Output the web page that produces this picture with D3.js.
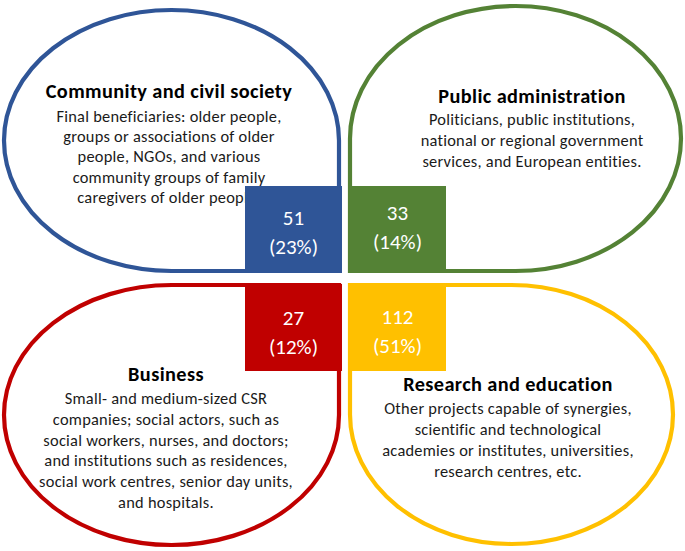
<!DOCTYPE html>
<html>
<head>
<meta charset="utf-8">
<script src="https://cdn.jsdelivr.net/npm/d3@7"></script>
<style>
  html, body { margin: 0; padding: 0; background: #ffffff; }
  svg { display: block; }
  text { font-family: Carlito, Lato, "Open Sans", sans-serif; }
</style>
</head>
<body>
<div id="chart"></div>
<script>
// ---- Data ----
const categories = ["Community and civil society", "Public administration", "Business", "Research and education"];
const counts = [51, 33, 27, 112];
const percents = [23, 14, 12, 51];
const descriptions = [
  ["Final beneficiaries: older people,", "groups or associations of older", "people, NGOs, and various", "community groups of family", "caregivers of older people."],
  ["Politicians, public institutions,", "national or regional government", "services, and European entities."],
  ["Small- and medium-sized CSR", "companies; social actors, such as", "social workers, nurses, and doctors;", "and institutions such as residences,", "social work centres, senior day units,", "and hospitals."],
  ["Other projects capable of synergies,", "scientific and technological", "academies or institutes, universities,", "research centres, etc."]
];
const colors = ["#2F5597", "#548235", "#C00000", "#FFC000"];

// ---- Layout ----
const W = 685, H = 551;
const svg = d3.select("#chart").append("svg").attr("width", W).attr("height", H);

const col = i => i % 2, row = i => Math.floor(i / 2);
const xOuter = d3.scaleOrdinal().domain([0, 1]).range([[4, 339], [350, 681]]);
const yOuter = d3.scaleOrdinal().domain([0, 1]).range([[10, 271], [285, 545]]);
const shapeBox = i => {
  let [x0, x1] = xOuter(col(i));
  let [y0, y1] = yOuter(row(i));
  if (i === 3) { x1 = 673; y1 = 544; }
  if (i === 1) { y0 = 6; }
  return { x0, x1, y0, y1 };
};

function teardrop(b, sq) {
  const hc = (b.x0 + b.x1) / 2, vc = (b.y0 + b.y1) / 2;
  const rx = (b.x1 - b.x0) / 2, ry = (b.y1 - b.y0) / 2;
  const pts = [[hc, b.y0], [b.x1, vc], [hc, b.y1], [b.x0, vc]];
  const corners = [[b.x1, b.y0], [b.x1, b.y1], [b.x0, b.y1], [b.x0, b.y0]];
  const names = ["TR", "BR", "BL", "TL"];
  let s = `M${pts[0][0]},${pts[0][1]}`;
  for (let k = 0; k < 4; k++) {
    const nx = pts[(k + 1) % 4];
    if (names[k] === sq) {
      s += `L${corners[k][0]},${corners[k][1]}L${nx[0]},${nx[1]}`;
    } else {
      s += `A${rx},${ry} 0 0 1 ${nx[0]},${nx[1]}`;
    }
  }
  return s + "Z";
}
const squareCorner = ["BR", "BL", "TR", "TL"];

const data = categories.map((c, i) => ({
  i, category: c, count: counts[i], pct: percents[i], lines: descriptions[i], color: colors[i]
}));

const g = svg.selectAll("g.quad").data(data).join("g").attr("class", "quad");

g.append("path")
  .attr("d", d => teardrop(shapeBox(d.i), squareCorner[d.i]))
  .attr("fill", "#ffffff")
  .attr("stroke", d => d.color)
  .attr("stroke-width", 4.2);

const textX = [169, 532, 166, 508];
const titleY = [98, 103, 381, 391];
const bodyOff = [24, 22, 23, 23];
const lineH = [20.2, 21, 20.8, 21];

g.append("text")
  .attr("x", d => textX[d.i])
  .attr("y", d => titleY[d.i])
  .attr("text-anchor", "middle")
  .attr("font-weight", "bold")
  .attr("font-size", 20.3)
  .attr("letter-spacing", 0.4)
  .attr("fill", "#000")
  .text(d => d.category);

g.each(function (d) {
  d3.select(this).append("text")
    .attr("text-anchor", "middle")
    .attr("font-size", 16.4)
    .attr("letter-spacing", 0.25)
    .attr("fill", "#1a1a1a")
    .selectAll("tspan").data(d.lines).join("tspan")
    .attr("x", textX[d.i])
    .attr("y", (l, k) => titleY[d.i] + bodyOff[d.i] + k * lineH[d.i])
    .text(l => l);
});

const boxW = 97, boxH = 87;
const boxX = i => col(i) === 0 ? 342 - boxW : 349;
const boxY = i => row(i) === 0 ? 273 - boxH : 284;
const numOff = [39, 34, 41, 40];

g.append("rect")
  .attr("x", d => boxX(d.i))
  .attr("y", d => boxY(d.i))
  .attr("width", boxW)
  .attr("height", boxH)
  .attr("fill", d => d.color);

g.append("text")
  .attr("text-anchor", "middle")
  .attr("font-size", 21)
  .attr("fill", "#ffffff")
  .selectAll("tspan").data(d => [String(d.count), `(${d.pct}%)`].map(t => ({ t, i: d.i })))
  .join("tspan")
  .attr("x", e => boxX(e.i) + boxW / 2)
  .attr("y", (e, k) => boxY(e.i) + numOff[e.i] + k * 28.5)
  .text(e => e.t);
</script>
</body>
</html>
